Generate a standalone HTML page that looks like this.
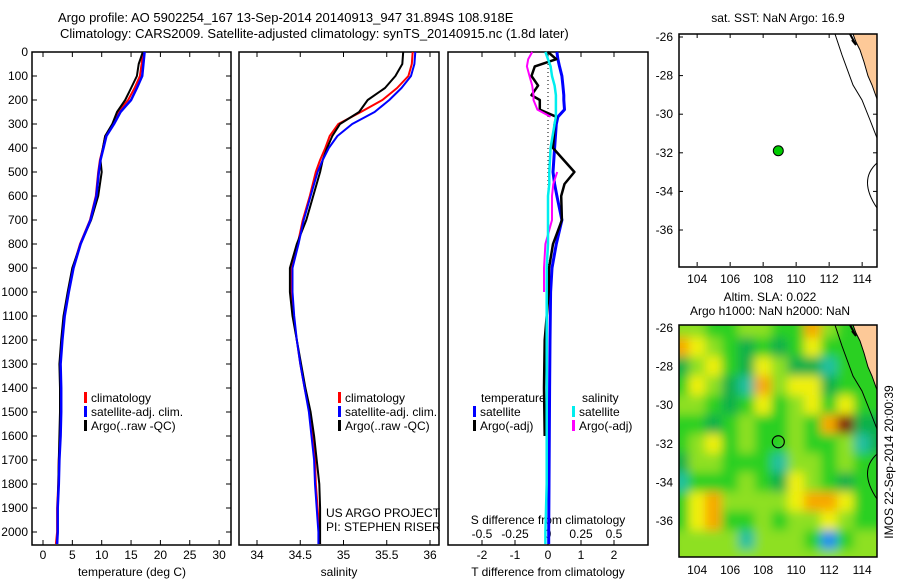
<!DOCTYPE html>
<html><head><meta charset="utf-8"><style>
html,body{margin:0;padding:0;background:#fff;}
svg{display:block;font-family:"Liberation Sans",sans-serif;}
text{font-size:12px;fill:#000;}
</style></head><body>
<svg id="c" width="900" height="580" viewBox="0 0 900 580" xmlns="http://www.w3.org/2000/svg">
<defs>
<filter id="blur" x="-10%" y="-10%" width="120%" height="120%"><feGaussianBlur stdDeviation="5"/></filter>
<clipPath id="mapclip"><rect x="679" y="325" width="198" height="232"/></clipPath>
</defs>
<text x="58" y="22" style="font-size:13px">Argo profile: AO 5902254_167 13-Sep-2014 20140913_947 31.894S 108.918E</text>
<text x="60" y="38" style="font-size:13px">Climatology: CARS2009. Satellite-adjusted climatology: synTS_20140915.nc (1.8d later)</text>
<g id="g"></g>
</svg>
<script>
// ---- data ----
const depths=[0,50,100,150,200,250,300,350,400,450,500,600,700,800,900,1000,1100,1200,1300,1400,1500,1600,1700,1800,1900,2000,2050];
const tempClim=[17.0,16.8,16.5,15.6,14.5,12.8,11.9,10.6,10.2,9.7,9.4,9.0,8.0,6.3,5.1,4.3,3.6,3.2,2.9,3.0,3.0,2.9,2.7,2.6,2.4,2.4,2.2];
const tempSat=[17.3,17.1,16.9,16.0,15.0,13.2,12.1,10.8,10.3,9.8,9.5,9.1,8.1,6.4,5.2,4.4,3.7,3.3,3.0,3.1,3.1,3.0,2.8,2.7,2.5,2.5,2.4];
const tempArgo=[17.0,16.3,16.0,15.0,14.0,12.6,11.8,10.6,10.2,9.8,10.0,9.4,8.2,6.4,5.0,4.2,3.5,3.1,2.8,2.9,2.9,2.8,2.7,2.6,2.5,2.5,2.4];
const salClim=[35.80,35.79,35.75,35.62,35.45,35.20,34.94,34.84,34.79,34.73,34.68,34.61,34.53,34.47,34.40,34.40,34.42,34.46,34.50,34.55,34.61,34.64,34.67,34.68,34.70,34.72,34.73];
const salSat=[35.83,35.82,35.78,35.67,35.53,35.36,35.10,34.93,34.83,34.76,34.70,34.62,34.54,34.48,34.41,34.41,34.43,34.46,34.50,34.55,34.60,34.63,34.66,34.67,34.69,34.71,34.71];
const salArgo=[35.69,35.68,35.60,35.48,35.28,35.18,34.96,34.87,34.81,34.76,34.73,34.65,34.57,34.46,34.38,34.38,34.41,34.46,34.51,34.56,34.62,34.66,34.69,34.72,34.73,34.73,34.73];
const dDepths=[0,30,60,100,140,180,200,240,270,300,400,500,550,600,700,800,900,1000,1200,1400,1600,1800,2000,2050];
const tDiffSat=[0.27,0.3,0.35,0.42,0.45,0.48,0.48,0.5,0.3,0.25,0.2,0.15,0.2,0.27,0.42,0.25,0.12,0.08,0.06,0.05,0.04,0.03,0.02,0.02];
const tDiffArgo=[0.0,0.25,-0.4,-0.5,-0.3,-0.5,-0.25,-0.25,0.25,0.2,0.15,0.8,0.5,0.4,0.42,0.15,0.03,0.02,-0.1,-0.12,-0.1,null,null,null];
const sDiffSat=[-0.02,0.0,0.02,0.03,0.05,0.06,0.06,0.06,0.06,0.05,0.02,0.01,0.01,0.0,0.0,0.0,-0.01,-0.01,-0.01,-0.01,-0.01,-0.01,-0.02,-0.02];
const sDiffArgo=[-0.12,-0.15,-0.16,-0.14,-0.12,-0.11,-0.11,-0.08,0.02,null,null,0.07,0.04,0.03,0.03,-0.02,-0.03,-0.03,null,null,null,null,null,null];
const depthTicks=[0,100,200,300,400,500,600,700,800,900,1000,1100,1200,1300,1400,1500,1600,1700,1800,1900,2000];
const tempTicks=[0,5,10,15,20,25,30];
const salTicks=[34,34.5,35,35.5,36];
const tDiffTicks=[-2,-1,0,1,2];
const sDiffTicks=[-0.5,-0.25,0,0.25,0.5];
const lonTicks=[104,106,108,110,112,114];
const latTicks=[-26,-28,-30,-32,-34,-36];
const argoLon=108.918, argoLat=-31.894;
const slaLons=[103,104,105,106,107,108,109,110,111,112,113,114,115];
const slaLats=[-26,-27,-28,-29,-30,-31,-32,-33,-34,-35,-36,-37,-38];
const slaGrid=[
[1,1,0,0,1,1,0,0,3,1,0,0,0],
[3,2,1,0,-1,0,-1,0,2,0,0,0,0],
[-1,1,2,0,-1,2,1,-1,-1,-2,0,0,0],
[0,2,1,-1,-2,3,1,2,2,-1,0,0,0],
[1,1,0,-1,0,2,0,1,2,0,2,0,0],
[0,0,-1,0,1,0,0,1,0,3,5,-1,-1],
[0,1,2,0,1,0,0,1,0,0,1,-2,-1],
[-1,1,1,0,0,0,-2,1,1,0,1,0,0],
[-2,0,0,0,1,0,-1,2,1,0,-1,0,0],
[0,2,3,1,1,1,1,2,3,3,2,0,0],
[0,2,3,0,0,1,0,1,1,2,1,0,0],
[1,1,1,1,-2,1,1,1,0,-3,0,1,1],
[1,1,1,1,1,1,1,1,1,1,1,1,1]];
// ---- helpers ----
const NS='http://www.w3.org/2000/svg';
const G=document.getElementById('g');
function mk(tag,attrs,name,parent){const e=document.createElementNS(NS,tag);for(const k in attrs)e.setAttribute(k,attrs[k]);


(parent||G).appendChild(e);return e;}
function txt(x,y,s,name,anchor,extra){const e=mk('text',Object.assign({x:x,y:y,'text-anchor':anchor||'start'},extra||{}),name);e.textContent=s;return e;}
const Y=d=>52+d*0.24;
const panels=[{x0:32,x1:231},{x0:239,x1:439},{x0:448,x1:648}];
const xT=v=>43+v*5.87, xS=v=>257+(v-34)*86.5, xTd=v=>548+v*33, xSd=v=>548+v*132;
function frame(p,name){mk('rect',{x:p.x0,y:52,width:p.x1-p.x0,height:493,fill:'none',stroke:'#000','stroke-width':1.5},name);}
function line(xs,ds,fx,color,w,name){let path='',pen=false;for(let i=0;i<ds.length;i++){if(xs[i]==null){pen=false;continue;}path+=(pen?'L':'M')+fx(xs[i]).toFixed(1)+','+Y(ds[i]).toFixed(1);pen=true;}
mk('path',{d:path,fill:'none',stroke:color,'stroke-width':w,'stroke-linejoin':'round'},name);}
function xticks(ticks,fx,yb,yt,name,labels){ticks.forEach((t,i)=>{const x=fx(t);
mk('line',{x1:x,y1:yb,x2:x,y2:yb-5,stroke:'#000'},name+'-tick');
if(yt!=null)mk('line',{x1:x,y1:yt,x2:x,y2:yt+5,stroke:'#000'},name+'-tick-top');
if(labels)txt(x,yb+14,labels[i],name+'-label','middle');});}
// panels
panels.forEach((p,i)=>frame(p,['temperature-panel','salinity-panel','difference-panel'][i]));
depthTicks.forEach(d=>{const y=Y(d);
mk('line',{x1:32,y1:y,x2:37,y2:y,stroke:'#000'},'depth-tick');
mk('line',{x1:226,y1:y,x2:231,y2:y,stroke:'#000'},'depth-tick-right');
txt(28,y+4,String(d),'depth-label','end');});
xticks(tempTicks,xT,545,52,'temp-axis',tempTicks.map(String));
txt(132,576,'temperature (deg C)','temp-axis-title','middle');
xticks(salTicks,xS,545,52,'sal-axis',salTicks.map(String));
txt(339,576,'salinity','sal-axis-title','middle');
xticks(tDiffTicks,xTd,545,52,'tdiff-axis',tDiffTicks.map(String));
txt(548,576,'T difference from climatology','tdiff-axis-title','middle');
sDiffTicks.forEach(t=>{const x=xSd(t);mk('line',{x1:x,y1:545,x2:x,y2:540,stroke:'#000'},'sdiff-tick');});
['-0.5','-0.25','0','0.25','0.5'].forEach((s,i)=>txt(xSd(sDiffTicks[i]),538,s,'sdiff-label','middle'));
txt(548,524,'S difference from climatology','sdiff-axis-title','middle');
// series
line(tempClim,depths,xT,'#f00',2,'temp-climatology-line');
line(tempArgo,depths,xT,'#000',2,'temp-argo-line');
line(tempSat,depths,xT,'#00f',2.5,'temp-satellite-line');
line(salClim,depths,xS,'#f00',2,'sal-climatology-line');
line(salArgo,depths,xS,'#000',2,'sal-argo-line');
line(salSat,depths,xS,'#00f',2,'sal-satellite-line');
mk('line',{x1:548,y1:52,x2:548,y2:270,stroke:'#000','stroke-dasharray':'1,3'},'zero-dotted-line');
line(tDiffSat,dDepths,xTd,'#00f',3,'tdiff-satellite-line');
line(tDiffArgo,dDepths,xTd,'#000',2.5,'tdiff-argo-line');
line(sDiffArgo,dDepths,xSd,'#f0f',2,'sdiff-argo-line');
line(sDiffSat,dDepths,xSd,'#0ee',2.5,'sdiff-satellite-line');
// legends
function leg(x,y,c,s,name){mk('rect',{x:x,y:y-10,width:3,height:11,fill:c},name+'-swatch');txt(x+7,y,s,name);}
[[84,'#f00','climatology'],[84,'#00f','satellite-adj. clim.'],[84,'#000','Argo(..raw -QC)']].forEach((l,i)=>leg(l[0],402+i*14,l[1],l[2],'temp-legend-entry'));
[[338,'#f00','climatology'],[338,'#00f','satellite-adj. clim.'],[338,'#000','Argo(..raw -QC)']].forEach((l,i)=>leg(l[0],402+i*14,l[1],l[2],'sal-legend-entry'));
txt(481,402,'temperature','legend-temp-header');txt(582,402,'salinity','legend-sal-header');
leg(473,416,'#00f','satellite','legend-tdiff-sat');leg(473,430,'#000','Argo(-adj)','legend-tdiff-argo');
leg(572,416,'#0ee','satellite','legend-sdiff-sat');leg(572,430,'#f0f','Argo(-adj)','legend-sdiff-argo');
txt(326,517,'US ARGO PROJECT','project-label');txt(326,531,'PI: STEPHEN RISER','pi-label');
// maps
function mapAxes(top,name){
const xL=lon=>679+(lon-102.9)*16.5, yL=lat=>top+3+(-26-lat)*19.3;
const bottom=top+232;
lonTicks.forEach(l=>{const x=xL(l);mk('line',{x1:x,y1:bottom,x2:x,y2:bottom-4,stroke:'#000'},name+'-lon-tick');mk('line',{x1:x,y1:top,x2:x,y2:top+4,stroke:'#000'},name+'-lon-tick-top');txt(x,bottom+17,String(l),name+'-lon-label','middle');});
latTicks.forEach(l=>{const y=yL(l);mk('line',{x1:679,y1:y,x2:683,y2:y,stroke:'#000'},name+'-lat-tick');mk('line',{x1:873,y1:y,x2:877,y2:y,stroke:'#000'},name+'-lat-tick-right');txt(673,y+4,String(l),name+'-lat-label','end');});
return {xL,yL,top,bottom};}
function coast(top,name){const o=top-34;
mk('path',{d:`M853,${34+o} L877,${34+o} L877,${99+o} L872,${85+o} L868,${76+o} L864,${62+o} L860,${50+o} L856,${42+o} Z`,fill:'#fdc998',stroke:'#000','stroke-width':1},name+'-land');
mk('path',{d:`M835,${34+o} L842,${55+o} L853,${85+o} L862,${100+o} L870,${120+o} L877,${138+o}`,fill:'none',stroke:'#000','stroke-width':1},name+'-coast-contour');
mk('path',{d:`M877,${163+o} Q858,${180+o} 877,${208+o}`,fill:'none',stroke:'#000','stroke-width':1},name+'-contour-arc');
mk('path',{d:`M850,${34+o} L856,${45+o} L852,${40+o}`,fill:'none',stroke:'#000','stroke-width':2},name+'-islands');}
// map 1
const m1=mapAxes(34,'sst-map');
coast(34,'sst-map');
mk('rect',{x:679,y:34,width:198,height:233,fill:'none',stroke:'#000','stroke-width':1.5},'sst-map-frame');
mk('circle',{cx:m1.xL(argoLon),cy:m1.yL(argoLat),r:5,fill:'#0c0',stroke:'#000'},'sst-map-argo-marker');
txt(778,22,'sat. SST: NaN Argo: 16.9','sst-map-title','middle');
// map 2
const m2=mapAxes(325,'sla-map');
const pal={'-3':'#1b8ff0','-2':'#20c0a0','-1':'#10b048','0':'#2ad020','1':'#8ee020','2':'#f0f010','3':'#f8a800','4':'#d04808','5':'#801808'};
const hg=mk('g',{'clip-path':'url(#mapclip)'},'sla-heatmap');
const hb=document.createElementNS(NS,'g');hb.setAttribute('filter','url(#blur)');


hg.appendChild(hb);
mk('rect',{x:660,y:305,width:240,height:270,fill:'#2ad020'},'sla-background',hb);
slaLats.forEach((lat,r)=>slaLons.forEach((lon,c)=>{
mk('rect',{x:m2.xL(lon)-8.5,y:m2.yL(lat)-10,width:17.5,height:20,fill:pal[String(slaGrid[r][c])]},'sla-cell',hb);}));
coast(325,'sla-map');
mk('rect',{x:679,y:325,width:198,height:232,fill:'none',stroke:'#000','stroke-width':1.5},'sla-map-frame');
mk('circle',{cx:m2.xL(argoLon),cy:m2.yL(argoLat),r:6,fill:'none',stroke:'#000','stroke-width':1.2},'sla-map-argo-marker');
txt(770,301,'Altim. SLA: 0.022','sla-map-title-1','middle');
txt(770,315,'Argo h1000: NaN h2000: NaN','sla-map-title-2','middle');
txt(0,0,'IMOS 22-Sep-2014 20:00:39','imos-timestamp','middle',{transform:'translate(893,462) rotate(-90)'});
</script>
</body></html>
